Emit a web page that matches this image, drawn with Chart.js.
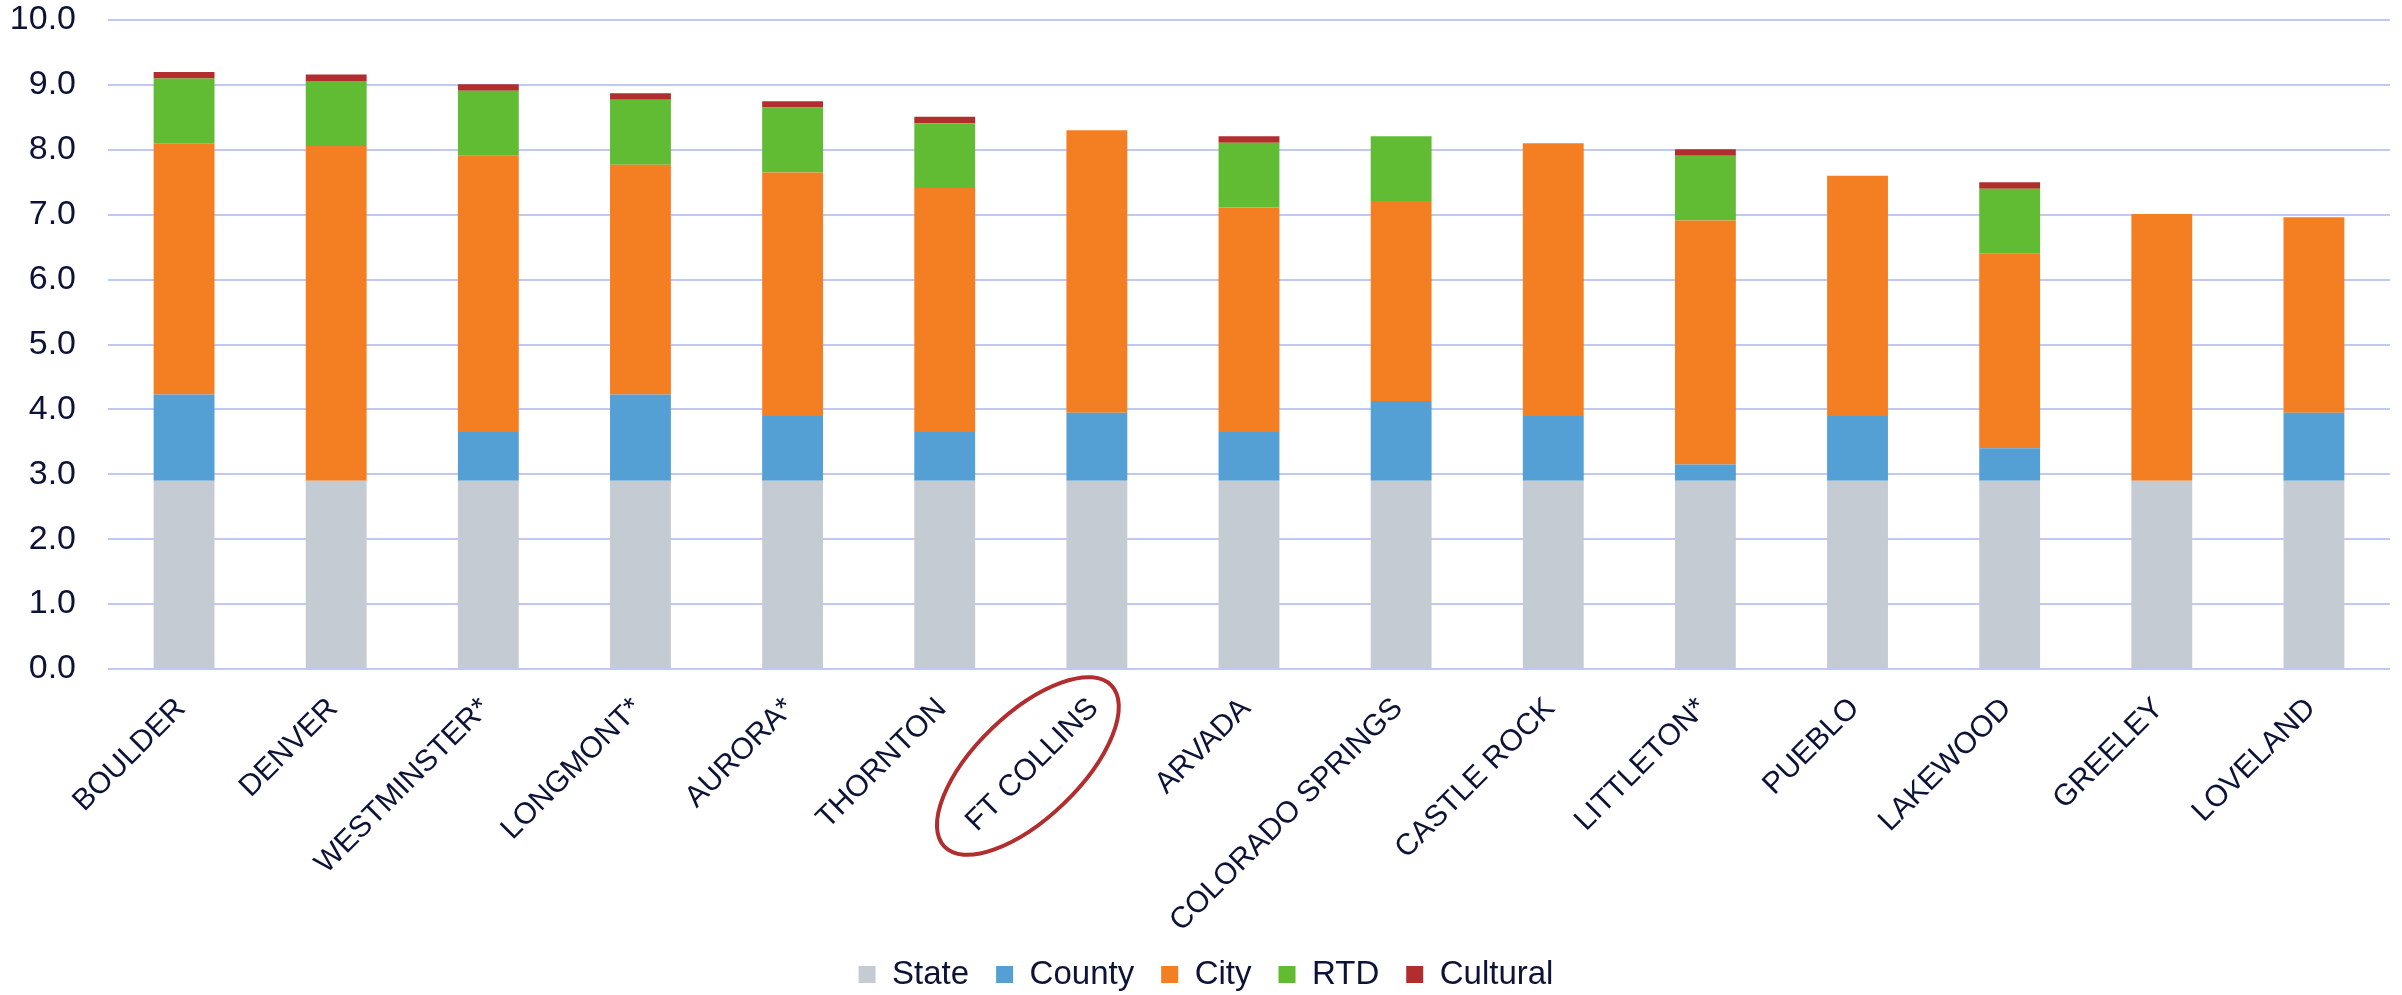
<!DOCTYPE html>
<html>
<head>
<meta charset="utf-8">
<script src="https://cdn.jsdelivr.net/npm/chart.js@4.4.1/dist/chart.umd.min.js"></script>
<style>
  html, body { margin: 0; padding: 0; background: #ffffff; }
  #wrap { width: 2402px; height: 995px; position: relative; }
</style>
</head>
<body>
<div id="wrap"><canvas id="c" width="2402" height="995"></canvas></div>
<script>
const categories = ['BOULDER','DENVER','WESTMINSTER*','LONGMONT*','AURORA*','THORNTON','FT COLLINS','ARVADA','COLORADO SPRINGS','CASTLE ROCK','LITTLETON*','PUEBLO','LAKEWOOD','GREELEY','LOVELAND'];
const stateVals    = [2.9, 2.9, 2.9, 2.9, 2.9, 2.9, 2.9, 2.9, 2.9, 2.9, 2.9, 2.9, 2.9, 2.9, 2.9];
const countyVals   = [1.33, 0, 0.75, 1.33, 1.0, 0.75, 1.05, 0.75, 1.23, 1.0, 0.25, 1.0, 0.5, 0, 1.05];
const cityVals     = [3.87, 5.16, 4.26, 3.54, 3.75, 3.76, 4.35, 3.46, 3.08, 4.2, 3.76, 3.7, 3.0, 4.11, 3.01];
const rtdVals      = [1.0, 1.0, 1.0, 1.0, 1.0, 1.0, 0, 1.0, 1.0, 0, 1.0, 0, 1.0, 0, 0];
const culturalVals = [0.1, 0.1, 0.1, 0.1, 0.1, 0.1, 0, 0.1, 0, 0, 0.1, 0, 0.1, 0, 0];
const seriesNames  = ['State', 'County', 'City', 'RTD', 'Cultural'];
const yTickMin = 0, yTickMax = 10, yTickStep = 1;
const highlightCategory = 'FT COLLINS';

const colors = ['#C4CBD2', '#549FD4', '#F47E22', '#61BB33', '#B22D2E'];
const textColor = '#0D1237';
const gridColor = '#C0C9F5';
const fontFamily = "'Liberation Sans', Arial, Helvetica, sans-serif";

const seriesValues = [stateVals, countyVals, cityVals, rtdVals, culturalVals];

const layoutTweaks = {
  id: 'layoutTweaks',
  afterLayout(chart) {
    Object.values(chart.scales).forEach(s => { s._computeLabelArea = () => undefined; });
    if (chart.legend) { chart.legend.left += 11; chart.legend.right += 11; }
  }
};

const ellipsePlugin = {
  id: 'highlightEllipse',
  afterDraw(chart) {
    const xs = chart.scales.x, ys = chart.scales.y;
    const idx = categories.indexOf(highlightCategory);
    if (idx < 0) return;
    const cx = xs.getPixelForValue(idx) - 69;
    const cy = ys.getPixelForValue(0) + 97;
    const ctx = chart.ctx;
    ctx.save();
    ctx.beginPath();
    ctx.ellipse(cx, cy, 116, 52, -44 * Math.PI / 180, 0, Math.PI * 2);
    ctx.lineWidth = 4;
    ctx.strokeStyle = '#B22D2E';
    ctx.stroke();
    ctx.restore();
  }
};

new Chart(document.getElementById('c'), {
  type: 'bar',
  data: {
    labels: categories,
    datasets: seriesNames.map((name, i) => ({
      label: name,
      data: seriesValues[i],
      backgroundColor: colors[i],
      borderWidth: 0,
      categoryPercentage: 1.0,
      barPercentage: 0.4
    }))
  },
  options: {
    responsive: false,
    animation: false,
    devicePixelRatio: 1,
    layout: { padding: { top: 20, right: 12, bottom: -6, left: 0 } },
    plugins: {
      legend: {
        position: 'bottom',
        labels: {
          color: textColor,
          font: { family: fontFamily, size: 33 },
          boxWidth: 17,
          boxHeight: 17,
          padding: 27
        }
      },
      tooltip: { enabled: false }
    },
    scales: {
      x: {
        stacked: true,
        grid: { display: false },
        border: { display: false },
        ticks: {
          color: textColor,
          font: { family: fontFamily, size: 30 },
          maxRotation: 45,
          minRotation: 45,
          autoSkip: false,
          padding: 14,
          labelOffset: -3
        },
        afterFit(scale) {
          scale.height = 262;
        }
      },
      y: {
        stacked: true,
        min: yTickMin,
        max: yTickMax,
        grid: { color: gridColor, lineWidth: 2, drawTicks: false },
        border: { display: false },
        ticks: {
          stepSize: yTickStep,
          color: textColor,
          font: { family: fontFamily, size: 34 },
          padding: 32,
          callback: (v) => Number(v).toFixed(1)
        },
        afterFit(scale) {
          scale.width = 108;
          scale.paddingTop = 0;
          scale.paddingBottom = 0;
        }
      }
    }
  },
  plugins: [layoutTweaks, ellipsePlugin]
});
</script>
</body>
</html>
